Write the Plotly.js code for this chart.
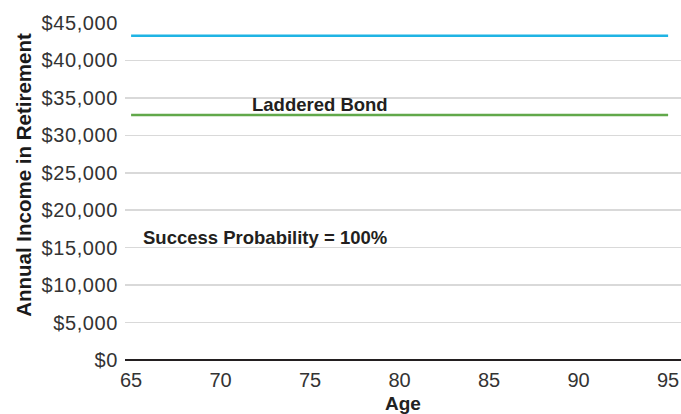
<!DOCTYPE html>
<html>
<head>
<meta charset="utf-8">
<script src="https://cdn.plot.ly/plotly-3.0.1.min.js"></script>
<style>
  html, body { margin: 0; padding: 0; background: #fff; }
  #chart { width: 681px; height: 414px; }
  .ytick text { letter-spacing: 0.6px; }
</style>
</head>
<body>
<div id="chart"></div>
<script>
// Ages covered by the retirement projection
const ages = [];
for (let a = 65; a <= 95; a++) ages.push(a);

// Annual income levels (flat across all ages)
const topIncome = 43300;
const ladderedBondIncome = 32700;

const xTicks = [65, 70, 75, 80, 85, 90, 95];
const yTicks = [0, 5000, 10000, 15000, 20000, 25000, 30000, 35000, 40000, 45000];
const yTickLabels = ['$0', '$5,000', '$10,000', '$15,000', '$20,000', '$25,000',
                     '$30,000', '$35,000', '$40,000', '$45,000'];

const xTitle = 'Age';
const yTitle = 'Annual Income in Retirement';
const ladderedLabel = 'Laddered Bond';
const successLabel = 'Success Probability = 100%';

const traces = [
  {
    x: ages,
    y: ages.map(() => topIncome),
    mode: 'lines',
    line: { color: '#1fb4e4', width: 2.5 },
    hoverinfo: 'skip'
  },
  {
    x: ages,
    y: ages.map(() => ladderedBondIncome),
    mode: 'lines',
    line: { color: '#61a84a', width: 2.5 },
    hoverinfo: 'skip'
  }
];

const font = 'Liberation Sans, Arial, sans-serif';

const layout = {
  width: 681,
  height: 414,
  margin: { l: 125, r: 0, t: 23, b: 54 },
  paper_bgcolor: '#ffffff',
  plot_bgcolor: '#ffffff',
  showlegend: false,
  xaxis: {
    range: [64.66, 95.72],
    tickvals: xTicks,
    ticktext: xTicks.map(String),
    showgrid: false,
    zeroline: false,
    showline: false,
    ticks: '',
    ticklabelstandoff: 6,
    tickfont: { family: font, size: 20, color: '#333333' },
    title: { text: '<b>' + xTitle + '</b>', font: { family: font, size: 19, color: '#222222' }, standoff: 7 }
  },
  yaxis: {
    range: [0, 45000],
    tickvals: yTicks,
    ticktext: yTickLabels,
    showgrid: true,
    gridcolor: '#d9d9d9',
    gridwidth: 1.5,
    zeroline: true,
    zerolinecolor: '#231f20',
    zerolinewidth: 2.5,
    showline: false,
    ticks: '',
    ticklabelstandoff: 6,
    tickfont: { family: font, size: 20, color: '#333333' }
  },
  annotations: [
    {
      // vertical axis caption, placed in paper space
      x: -0.182, y: 0.549, xref: 'paper', yref: 'paper',
      xanchor: 'center', yanchor: 'middle',
      text: '<b>' + yTitle + '</b>',
      textangle: -90, showarrow: false,
      font: { family: font, size: 20.5, color: '#1a1a1a', weight: 'bold' }
    },
    {
      x: 75.53, y: ladderedBondIncome, xref: 'x', yref: 'y',
      text: '<b>' + ladderedLabel + '</b>',
      showarrow: false, yanchor: 'bottom', yshift: -2,
      font: { family: font, size: 18.5, color: '#231f20' }
    },
    {
      x: 72.46, y: 16420, xref: 'x', yref: 'y',
      text: '<b>' + successLabel + '</b>',
      showarrow: false,
      font: { family: font, size: 18.5, color: '#231f20' }
    }
  ]
};

Plotly.newPlot('chart', traces, layout, { displayModeBar: false, staticPlot: true });
</script>
</body>
</html>
